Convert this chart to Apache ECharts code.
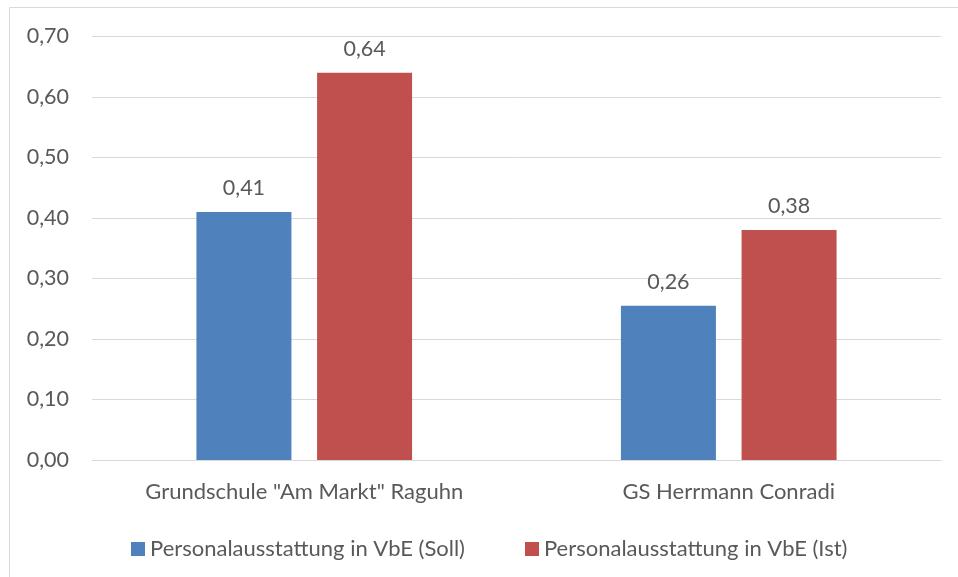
<!DOCTYPE html>
<html><head><meta charset="utf-8">
<script src="https://cdn.jsdelivr.net/npm/echarts@6/dist/echarts.min.js"></script>
<style>html,body{margin:0;padding:0;background:#fff}#c{width:958px;height:577px}</style>
</head><body><div id="c"></div>
<script>
const categories = ['Grundschule "Am Markt" Raguhn', 'GS Herrmann Conradi'];
const seriesNames = ['Personalausstattung in VbE (Soll)', 'Personalausstattung in VbE (Ist)'];
const sollValues = [0.41, 0.255];
const istValues = [0.64, 0.38];
const yTicks = [0, 0.1, 0.2, 0.3, 0.4, 0.5, 0.6, 0.7];

const FONT = 'Lato';
const TXT = '#595959';
const fmt = v => v.toFixed(2).replace('.', ',');
const chart = echarts.init(document.getElementById('c'), null, {renderer: 'canvas'});
const labelCfg = {show: true, position: 'top', distance: 13, color: TXT, fontFamily: FONT, fontSize: 21.5,
  formatter: p => fmt(p.value)};
chart.setOption({
  animation: false,
  graphic: [{type: 'rect', shape: {x: 9.5, y: 7.5, width: 960, height: 580}, style: {fill: 'none', stroke: '#d9d9d9', lineWidth: 1}}],
  grid: {left: 92, right: 17, top: 36.5, bottom: 117, containLabel: false},
  legend: {top: 538, left: 131, padding: 0, itemWidth: 14, itemHeight: 14, itemGap: 60, icon: 'rect',
    textStyle: {color: TXT, fontFamily: FONT, fontSize: 22, padding: [0, 0, 0, 0]},
    data: seriesNames},
  xAxis: {type: 'category', data: categories,
    axisLine: {lineStyle: {color: '#d9d9d9'}}, axisTick: {show: false},
    axisLabel: {color: TXT, fontFamily: FONT, fontSize: 22, margin: 21}},
  yAxis: {type: 'value', min: yTicks[0], max: yTicks[yTicks.length - 1], interval: 0.1,
    axisLine: {show: false}, axisTick: {show: false},
    splitLine: {lineStyle: {color: '#d9d9d9', width: 1}},
    axisLabel: {color: TXT, fontFamily: FONT, fontSize: 21.5, margin: 23, formatter: v => fmt(v)}},
  series: [
    {name: seriesNames[0], type: 'bar', data: sollValues, barWidth: 95, barGap: '27%',
      itemStyle: {color: '#4f81bd'}, label: labelCfg},
    {name: seriesNames[1], type: 'bar', data: istValues, barWidth: 95,
      itemStyle: {color: '#c0504d'}, label: labelCfg}
  ]
});
</script></body></html>
